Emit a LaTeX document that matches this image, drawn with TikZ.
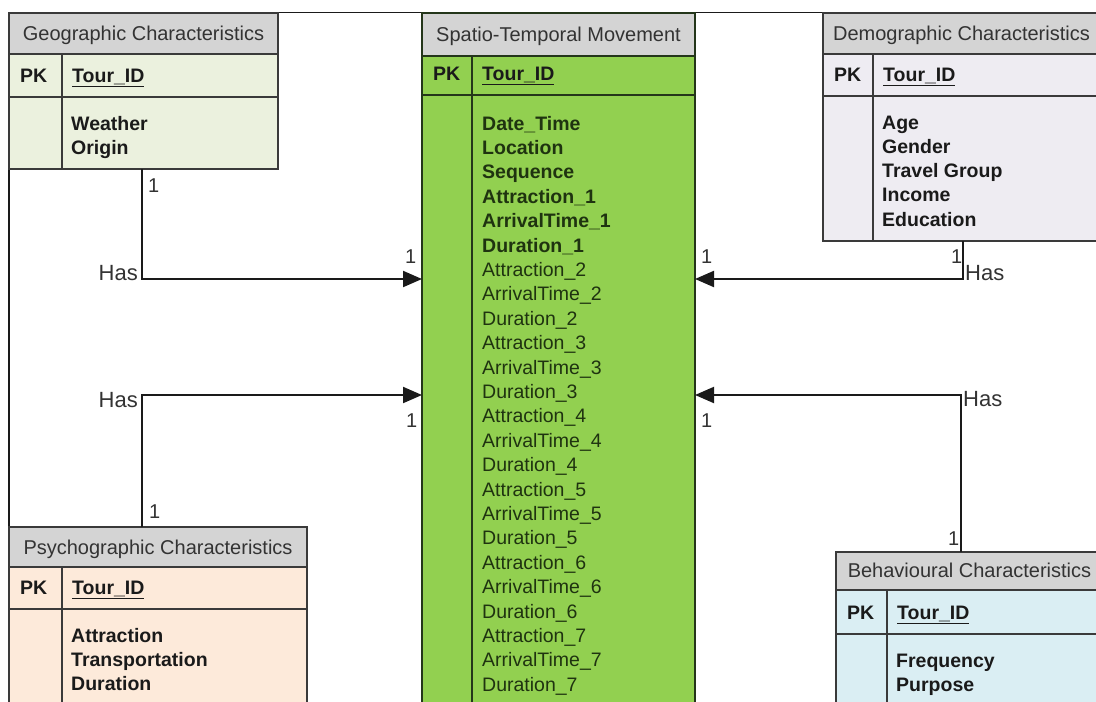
\documentclass[tikz,border=0pt]{standalone}
\usepackage{fontspec}
\setmainfont{Liberation Sans}
\usetikzlibrary{arrows.meta}

\definecolor{headgray}{HTML}{D4D4D4}
\definecolor{geofill}{HTML}{EBF1DE}
\definecolor{stmfill}{HTML}{92D050}
\definecolor{demofill}{HTML}{EEECF2}
\definecolor{psyfill}{HTML}{FDEADA}
\definecolor{behfill}{HTML}{DAEEF3}
\definecolor{edge}{HTML}{3A3A3A}
\definecolor{stmedge}{HTML}{24361A}
\definecolor{ink}{HTML}{1A1A1A}
\definecolor{stmink}{HTML}{1F3310}
\definecolor{headink}{HTML}{333333}

\tikzset{
  tableline/.style={draw=edge, line width=1.5pt},
  titletext/.style={font=\fontsize{20}{24}\selectfont, text=headink, inner sep=0pt},
  keytext/.style={font=\fontsize{19.5}{24}\selectfont\bfseries, text=ink, inner sep=0pt, anchor=base west},
  bodytext/.style={font=\fontsize{19.5}{24}\selectfont\bfseries, text=ink, inner sep=0pt, anchor=base west},
  plaintext/.style={font=\fontsize{19.5}{24}\selectfont, text=stmink, inner sep=0pt, anchor=base west},
  haslabel/.style={font=\fontsize{22}{26}\selectfont, text=headink, inner sep=0pt},
  onelabel/.style={font=\fontsize{20}{24}\selectfont, text=headink, inner sep=0pt, anchor=base west},
  conn/.style={draw=ink, line width=2pt},
  connarrow/.style={conn, -{Triangle[length=19pt,width=16pt]}},
}

% entity box: name, fill, left, top, right, header bottom, key row bottom, bottom, key column divider
\newcommand\ertable[9]{%
  \node[fill=#2, draw=none, inner sep=0pt, outer sep=0pt, anchor=north west,
        minimum width={(#5-#3)*1pt}, minimum height={(#8-#4)*1pt}] (#1) at (#3,#4) {};
  \fill[headgray] (#3,#4) rectangle (#5,#6);
  \draw[tableline] (#3,#6) -- (#5,#6);
  \draw[tableline] (#3,#7) -- (#5,#7);
  \draw[tableline] (#9,#6) -- (#9,#8);
  \draw[tableline] (#1.north west) rectangle (#1.south east);
  \node[keytext] (#1-pk) at (#3+11,#7-15) {PK};
  \node[keytext] (#1-id) at (#9+10,#7-15) {\underline{Tour\_ID}};
}

\begin{document}
\begin{tikzpicture}[x=1pt,y=-1pt]
\useasboundingbox (0,0) rectangle (1096,702);
\clip (0,0) rectangle (1096,702);
\fill[white] (0,0) rectangle (1096,702);

% outer frame (top and left sides)
\draw[draw=ink, line width=1.5pt] (9,720) -- (9,12.5) -- (1100,12.5);

% entities
\ertable{geo}{geofill}{9}{13}{278}{54}{97}{169}{62}
\node[titletext, anchor=base] (geo-title) at ([yshift=-27pt]geo.north) {Geographic Characteristics};
\foreach \t [count=\i from 0] in {Weather,Origin}
  \node[bodytext] (geo-b\i) at (71,130+\i*24.3) {\t};

\ertable{stm}{stmfill}{422}{13}{695}{56}{95}{730}{472}
\draw[draw=stmedge, line width=1.5pt] (422,56) -- (695,56) (422,95) -- (695,95) (472,56) -- (472,730)
  (422,730) -- (422,13) -- (695,13) -- (695,730);
\node[titletext, anchor=base] (stm-title) at ([yshift=-28pt]stm.north) {Spatio-Temporal Movement};
\foreach \t [count=\i from 0] in {Date\_Time,Location,Sequence,Attraction\_1,ArrivalTime\_1,Duration\_1}
  \node[bodytext, text=stmink] (stm-b\i) at (482,130+\i*24.4) {\t};
\foreach \t [count=\i from 6] in {Attraction\_2,ArrivalTime\_2,Duration\_2,Attraction\_3,ArrivalTime\_3,Duration\_3,
    Attraction\_4,ArrivalTime\_4,Duration\_4,Attraction\_5,ArrivalTime\_5,Duration\_5,
    Attraction\_6,ArrivalTime\_6,Duration\_6,Attraction\_7,ArrivalTime\_7,Duration\_7}
  \node[plaintext] (stm-b\i) at (482,130+\i*24.4) {\t};

\ertable{demo}{demofill}{823}{13}{1100}{54}{96}{241}{873}
\node[titletext, anchor=base] (demo-title) at ([yshift=-27pt]demo.north) {Demographic Characteristics};
\foreach \t [count=\i from 0] in {Age,Gender,Travel Group,Income,Education}
  \node[bodytext] (demo-b\i) at (882,129+\i*24.3) {\t};

\ertable{psy}{psyfill}{9}{527}{307}{567}{609}{730}{62}
\node[titletext, anchor=base] (psy-title) at ([yshift=-27pt]psy.north) {Psychographic Characteristics};
\foreach \t [count=\i from 0] in {Attraction,Transportation,Duration}
  \node[bodytext] (psy-b\i) at (71,642+\i*24.3) {\t};

\ertable{beh}{behfill}{836}{552}{1103}{590}{634}{730}{887}
\node[titletext, anchor=base] (beh-title) at ([yshift=-25pt]beh.north) {Behavioural Characteristics};
\foreach \t [count=\i from 0] in {Frequency,Purpose}
  \node[bodytext] (beh-b\i) at (896,667+\i*24.3) {\t};

% relationship bends
\coordinate (geoJ) at (142,279);
\coordinate (psyJ) at (142,395);
\coordinate (demoJ) at (963,279);
\coordinate (behJ) at (961,395);

\draw[connarrow] (geo.south -| geoJ) -- (geoJ) -- (stm.west |- geoJ);
\draw[connarrow] (psy.north -| psyJ) -- (psyJ) -- (stm.west |- psyJ);
\draw[connarrow] (demo.south -| demoJ) -- (demoJ) -- (stm.east |- demoJ);
\draw[connarrow] (beh.north -| behJ) -- (behJ) -- (stm.east |- behJ);

% relationship labels
\node[haslabel, anchor=base east] (has-geo) at (138,280) {Has};
\node[haslabel, anchor=base east] (has-psy) at (138,407) {Has};
\node[haslabel, anchor=base west] (has-demo) at (965,280) {Has};
\node[haslabel, anchor=base west] (has-beh) at (963,406) {Has};

% cardinalities
\node[onelabel] (c-geo) at (148,192) {1};
\node[onelabel] (c-stm-geo) at (405,263) {1};
\node[onelabel] (c-stm-psy) at (406,427) {1};
\node[onelabel] (c-psy) at (149,518) {1};
\node[onelabel] (c-stm-demo) at (701,263) {1};
\node[onelabel] (c-demo) at (951,263) {1};
\node[onelabel] (c-stm-beh) at (701,427) {1};
\node[onelabel] (c-beh) at (948,545) {1};
\end{tikzpicture}
\end{document}
